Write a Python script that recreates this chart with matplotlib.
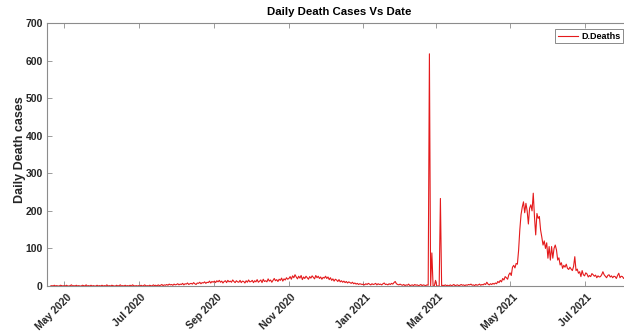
import numpy as np
import pandas as pd
import matplotlib
matplotlib.use("Agg")
import matplotlib.pyplot as plt

# ---- data (daily deaths) ----
start_date = "2020-04-20"
apr_2020 = [0, 1, 0, 2, 0, 1, 0, 0, 2, 1, 0]
may_2020 = [1, 0, 2, 0, 0, 1, 3, 0, 1, 0, 2, 0, 1, 0, 0, 2, 1, 0, 3, 0, 1, 0, 2, 0, 1, 0, 0, 2, 0, 1, 0]
jun_2020 = [2, 0, 1, 0, 3, 0, 1, 0, 2, 1, 0, 0, 2, 0, 1, 3, 0, 1, 0, 2, 0, 1, 0, 2, 0, 3, 1, 0, 1, 0]
jul_2020 = [1, 0, 2, 0, 1, 3, 0, 1, 0, 2, 1, 0, 3, 1, 2, 0, 3, 1, 2, 4, 1, 3, 2, 4, 2, 5, 3, 4, 2, 5, 3]
aug_2020 = [4, 6, 3, 5, 4, 7, 3, 6, 5, 8, 4, 6, 7, 5, 9, 6, 4, 8, 7, 10, 6, 9, 8, 11, 7, 10, 9, 13, 8, 12, 10]
sep_2020 = [13, 9, 14, 11, 15, 10, 13, 8, 12, 14, 9, 15, 11, 13, 10, 16, 12, 9, 14, 11, 10, 15, 9, 13, 12, 8, 14, 10, 16, 11]
oct_2020 = [12, 15, 9, 14, 11, 17, 10, 13, 16, 9, 18, 12, 14, 11, 19, 13, 16, 10, 15, 20, 14, 17, 12, 18, 15, 21, 13, 19, 16, 22, 18]
nov_2020 = [20, 25, 18, 27, 22, 30, 24, 19, 26, 21, 28, 17, 24, 20, 26, 22, 18, 25, 21, 27, 23, 19, 28, 22, 26, 20, 24, 18, 23, 21]
dec_2020 = [26, 20, 24, 17, 22, 15, 19, 13, 18, 16, 12, 17, 11, 14, 10, 13, 9, 12, 8, 11, 9, 7, 10, 6, 8, 5, 7, 4, 6, 5, 4]
jan_2021 = [5, 3, 6, 4, 7, 5, 3, 6, 4, 5, 7, 3, 6, 4, 5, 3, 6, 8, 4, 5, 3, 6, 4, 7, 5, 9, 12, 6, 4, 3, 5]
feb_2021 = [3, 2, 4, 1, 3, 2, 5, 1, 2, 3, 1, 4, 2, 3, 1, 2, 4, 1, 3, 2, 1, 3, 2, 618, 0, 88, 0, 0]
mar_2021 = [15, 0, 0, 0, 233, 0, 2, 1, 3, 1, 2, 0, 3, 1, 2, 4, 1, 2, 3, 1, 2, 4, 2, 3, 1, 3, 2, 4, 3, 5, 2]
apr_2021 = [3, 1, 4, 2, 3, 5, 2, 4, 3, 6, 4, 10, 5, 3, 6, 4, 7, 5, 8, 6, 12, 9, 15, 11, 20, 16, 25, 22, 18, 30]
may_2021 = [35, 28, 50, 55, 48, 60, 58, 95, 150, 190, 210, 224, 195, 220, 200, 165, 207, 216, 200, 247,
            184, 136, 193, 180, 185, 149, 130, 109, 120, 100, 115]
jun_2021 = [74, 105, 69, 105, 74, 100, 109, 96, 69, 75, 56, 62, 47, 55, 50, 58, 47, 44, 50, 45,
            41, 52, 78, 41, 45, 34, 38, 25, 41, 30]
jul_2021 = [27, 35, 32, 24, 28, 25, 33, 30, 26, 29, 22, 27, 24, 25, 30, 38, 30, 26, 22, 28,
            30, 24, 27, 22, 26, 25, 20, 28, 34, 22, 26]
aug_2021 = [25, 20, 24, 21, 18, 23, 19, 22]

months = [apr_2020, may_2020, jun_2020, jul_2020, aug_2020, sep_2020, oct_2020, nov_2020,
          dec_2020, jan_2021, feb_2021, mar_2021, apr_2021, may_2021, jun_2021, jul_2021, aug_2021]
deaths = np.concatenate([np.asarray(m, dtype=float) for m in months])
dates = pd.date_range(start_date, periods=len(deaths), freq="D")

tick_dates = pd.to_datetime(["2020-05-01", "2020-07-01", "2020-09-01", "2020-11-01",
                             "2021-01-01", "2021-03-01", "2021-05-01", "2021-07-01"])
tick_labels = ["May 2020", "Jul 2020", "Sep 2020", "Nov 2020",
               "Jan 2021", "Mar 2021", "May 2021", "Jul 2021"]
y_ticks = [0, 100, 200, 300, 400, 500, 600, 700]

# ---- figure ----
plt.rcParams['font.family'] = ['Liberation Sans', 'DejaVu Sans']
fig = plt.figure(figsize=(6.24, 3.31), dpi=100)
W, H = 624, 331
ax = fig.add_axes([47 / W, (H - 286) / H, (631 - 47) / W, (286 - 23) / H])

ax.plot(dates, deaths, color="#e41a1c", lw=0.8, label="D.Deaths")

ax.set_xlim(pd.Timestamp("2020-04-17"), pd.Timestamp("2021-08-08"))
ax.set_ylim(0, 700)
ax.set_yticks(y_ticks)
ax.set_xticks(tick_dates)
ax.set_xticklabels([])
# rotated date labels (MATLAB style), anchored at each tick
for d, lab in zip(tick_dates, tick_labels):
    ax.annotate(lab, xy=(d, 0), xycoords=("data", "axes fraction"),
                xytext=(4, -7), textcoords="offset points",
                rotation=45, ha="right", va="center", rotation_mode="anchor",
                fontsize=7.5, fontweight="bold", color="#262626",
                annotation_clip=False)
for lab in ax.get_yticklabels():
    lab.set_fontweight("bold")
    lab.set_fontsize(7.5)
    lab.set_color("#262626")

gray = "#8c8c8c"
for s in ax.spines.values():
    s.set_color(gray)
    s.set_linewidth(0.8)
ax.tick_params(axis="both", which="both", direction="in", length=3.5, width=0.6,
               color=gray, top=True, right=True, pad=3)

ax.set_title("Daily Death Cases Vs Date", fontsize=8.2, fontweight="bold", pad=6)
ax.set_ylabel("Daily Death cases", fontsize=9, fontweight="bold", color="#262626")
ax.yaxis.set_label_coords((26 - 47) / 584, (286 - 150) / 263)

leg = ax.legend(loc="upper left", bbox_to_anchor=(555 / W, 1 - 29 / H),
                bbox_transform=fig.transFigure, prop={"size": 6.5, "weight": "bold"},
                frameon=True, fancybox=False, borderpad=0.3, handlelength=2.2,
                handletextpad=0.4, borderaxespad=0)
leg.get_frame().set_edgecolor("#555555")
leg.get_frame().set_linewidth(0.6)

fig.savefig("out.png", dpi=100)
